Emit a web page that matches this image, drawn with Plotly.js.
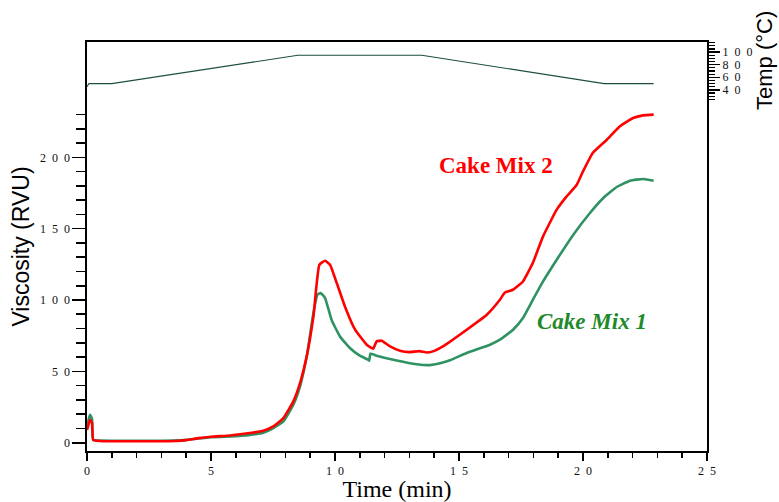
<!DOCTYPE html>
<html>
<head>
<meta charset="utf-8">
<script src="https://cdn.plot.ly/plotly-3.0.1.min.js"></script>
<style>html,body{margin:0;padding:0;background:#fff;}#chart{width:779px;height:502px;}</style>
</head>
<body>
<div id="chart"></div>
<script>
// ---- Data ----
var timeMix2 = [0, 0.05, 0.12, 0.2, 0.25, 0.5, 1, 2, 3, 3.5, 4, 4.5, 5, 5.77, 6.57, 7.11, 7.51, 7.92, 8.32, 8.59, 8.86, 9.13, 9.37, 9.6, 9.8, 10.07, 10.4, 10.81, 11.28, 11.54, 11.68, 11.88, 12.22, 12.62, 13.0, 13.4, 13.7, 13.95, 14.35, 15.31, 16.12, 16.65, 16.85, 17.18, 17.58, 17.98, 18.39, 18.94, 19.34, 19.75, 20.0, 20.4, 20.96, 21.49, 22.02, 22.42, 22.85];
var viscMix2 = [9, 12, 16, 14, 2, 1.2, 1.0, 1.0, 1.0, 1.2, 1.8, 3.2, 4.2, 5.1, 6.8, 8.4, 11.4, 17.3, 29.0, 41.8, 60.5, 88.5, 124.7, 127.5, 124.7, 111.9, 95.5, 79.2, 68.7, 65.9, 71.0, 71.5, 67.5, 64.5, 63.5, 64.2, 63.2, 64.0, 67.5, 79.2, 89.7, 100.2, 105.3, 107.2, 113.0, 126.1, 144.6, 163.3, 172.6, 180.8, 190.1, 203.2, 212.3, 221.7, 227.5, 229.4, 229.9];

var timeMix1 = [0, 0.05, 0.12, 0.2, 0.25, 0.5, 1, 2, 3, 3.5, 4, 4.5, 5, 5.77, 6.57, 7.11, 7.51, 7.92, 8.32, 8.59, 8.86, 9.13, 9.29, 9.42, 9.6, 9.86, 10.2, 10.6, 11.0, 11.34, 11.38, 11.43, 11.68, 12.49, 13.29, 13.83, 14.2, 14.64, 15.31, 16.25, 16.65, 17.18, 17.58, 17.98, 18.39, 18.94, 19.61, 20.28, 20.82, 21.36, 21.9, 22.43, 22.85];
var viscMix1 = [12, 15, 19.5, 17, 2, 1.5, 1.4, 1.4, 1.4, 1.5, 2.0, 3.0, 3.8, 4.4, 5.5, 7.0, 10.3, 14.9, 26.6, 39.5, 60.5, 90.9, 103.7, 104.9, 101.4, 86.2, 74.5, 66.4, 61.0, 58.2, 57.5, 62.4, 61.0, 57.6, 55.0, 54.4, 55.5, 57.8, 62.9, 68.7, 72.2, 79.2, 87.4, 100.2, 113.0, 128.2, 145.8, 161.0, 171.5, 179.2, 183.6, 184.8, 183.6];

var timeTemp = [0, 0.08, 1, 8.5, 13.5, 20.85, 22.85];
var tempC    = [45, 50, 50, 95, 95, 50, 50];

var xMajor = [0, 5, 10, 15, 20, 25];
var xMajorText = ["0", "5", "1\u20020", "1\u20025", "2\u20020", "2\u20025"];
var xMinor = [1, 2, 3, 4, 6, 7, 8, 9, 11, 12, 13, 14, 16, 17, 18, 19, 21, 22, 23, 24];

var yMajor = [0, 50, 100, 150, 200];
var yMajorText = ["0", "5\u20020", "1\u20020\u20020", "1\u20025\u20020", "2\u20020\u20020"];
var yMinor = [10, 20, 30, 40, 60, 70, 80, 90, 110, 120, 130, 140, 160, 170, 180, 190, 210, 220, 230];

var tMajor = [40, 60, 80, 100];
var tMajorText = ["4\u20020", "6\u20020", "8\u20020", "1\u20020\u20020"];
var tMinor = [25, 30, 35, 45, 50, 55, 65, 70, 75, 85, 90, 95, 105, 110, 115];

var seriesNames = ["Cake Mix 1", "Cake Mix 2", "Temperature"];

// ---- Traces ----
var traces = [
  {x: timeMix1, y: viscMix1, name: seriesNames[0], type: 'scatter', mode: 'lines',
   line: {color: '#2e9262', width: 2.6, shape: 'spline', smoothing: 0.4}, yaxis: 'y'},
  {x: timeMix2, y: viscMix2, name: seriesNames[1], type: 'scatter', mode: 'lines',
   line: {color: '#ff0000', width: 2.6, shape: 'spline', smoothing: 0.4}, yaxis: 'y'},
  {x: timeTemp, y: tempC, name: seriesNames[2], type: 'scatter', mode: 'lines',
   line: {color: '#1b4f3c', width: 1.1}, yaxis: 'y2'}
];

var tickFont = {family: 'Liberation Serif, Times New Roman, serif', size: 12, color: '#111'};

var layout = {
  width: 779, height: 502,
  margin: {l: 87, r: 72, t: 42, b: 51, pad: 0},
  paper_bgcolor: '#ffffff', plot_bgcolor: '#ffffff',
  showlegend: false,
  xaxis: {
    range: [0, 25], showgrid: false, zeroline: false,
    showline: true, linecolor: '#000', linewidth: 1.6, mirror: true,
    tickmode: 'array', tickvals: xMajor, ticktext: xMajorText,
    ticks: 'outside', ticklen: 8, tickwidth: 1.6, tickcolor: '#000',
    minor: {tickmode: 'array', tickvals: xMinor, ticks: 'outside', ticklen: 5, tickwidth: 1.6, tickcolor: '#000', showgrid: false},
    tickfont: tickFont,
    title: {text: 'Time (min)', font: {family: 'Liberation Serif, Times New Roman, serif', size: 24, color: '#000'}, standoff: 10}
  },
  yaxis: {
    range: [-5.8, 280.8], showgrid: false, zeroline: false,
    showline: true, linecolor: '#000', linewidth: 1.6, mirror: true,
    tickmode: 'array', tickvals: yMajor, ticktext: yMajorText,
    ticks: 'outside', ticklen: 13, tickwidth: 1.6, tickcolor: '#000',
    minor: {tickmode: 'array', tickvals: yMinor, ticks: 'outside', ticklen: 9, tickwidth: 1.6, tickcolor: '#000', showgrid: false},
    tickfont: tickFont,
    title: {text: 'Viscosity (RVU)', font: {family: 'Liberation Sans, Arial, sans-serif', size: 23, color: '#000'}, standoff: 4}
  },
  yaxis2: {
    overlaying: 'y', side: 'right', anchor: 'x',
    range: [-534.1, 116.1], showgrid: false, zeroline: false, showline: false,
    tickmode: 'array', tickvals: tMajor, ticktext: tMajorText,
    ticks: 'outside', ticklen: 12, tickwidth: 1.4, tickcolor: '#000',
    minor: {tickmode: 'array', tickvals: tMinor, ticks: 'outside', ticklen: 7, tickwidth: 1.2, tickcolor: '#000', showgrid: false},
    tickfont: tickFont
  },
  annotations: [
    {x: 16.49, y: 194.6, xref: 'x', yref: 'y', text: '<b>Cake Mix 2</b>', showarrow: false,
     font: {family: 'Liberation Serif, Times New Roman, serif', size: 23, color: '#ff0000'}},
    {x: 20.36, y: 84.8, xref: 'x', yref: 'y', text: '<b><i>Cake Mix 1</i></b>', showarrow: false,
     font: {family: 'Liberation Serif, Times New Roman, serif', size: 23, color: '#1e8a2a'}},
    {x: 1.0935, y: 0.956, xref: 'paper', yref: 'paper', text: 'Temp (°C)', textangle: -90, showarrow: false,
     xanchor: 'center', yanchor: 'middle',
     font: {family: 'Liberation Sans, Arial, sans-serif', size: 22, color: '#000'}}
  ]
};

Plotly.newPlot('chart', traces, layout, {displayModeBar: false, staticPlot: true});
</script>
</body>
</html>
